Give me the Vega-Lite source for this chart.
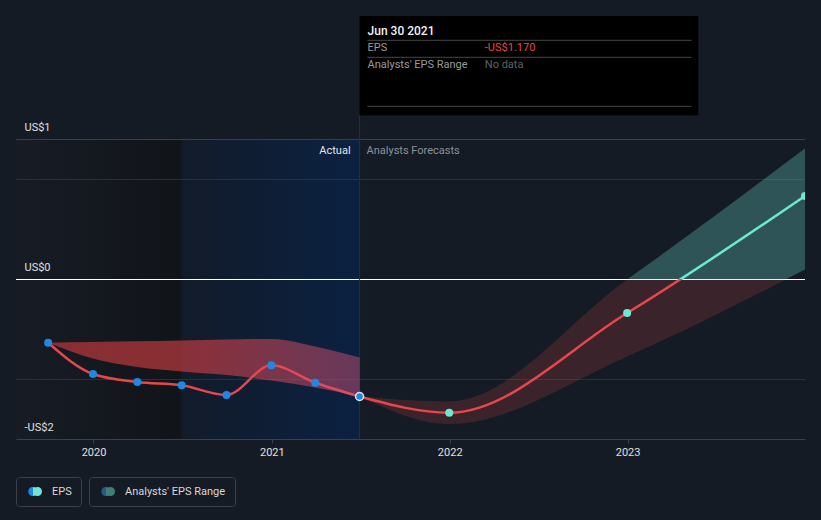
{
  "$schema": "https://vega.github.io/schema/vega-lite/v6.json",
  "width": 789,
  "height": 423,
  "autosize": {"type": "none"},
  "padding": {"left": 16, "top": 16, "right": 16, "bottom": 81},
  "background": "#151b25",
  "config": {
    "font": "Roboto",
    "view": {"stroke": null},
    "legend": {
      "orient": "bottom",
      "direction": "horizontal",
      "strokeColor": "#3b404b",
      "cornerRadius": 3,
      "padding": 9,
      "labelColor": "#d8d8d8",
      "labelFontSize": 11,
      "labelFont": "Roboto",
      "symbolSize": 100,
      "symbolOpacity": 1,
      "symbolStrokeWidth": 0,
      "labelOffset": 16,
      "offset": 20
    }
  },
  "datasets": {
    "actual": [
      {"date": "2019-09-30", "eps": -0.632},
      {"date": "2019-12-31", "eps": -0.945},
      {"date": "2020-03-31", "eps": -1.025},
      {"date": "2020-06-30", "eps": -1.058},
      {"date": "2020-09-30", "eps": -1.155},
      {"date": "2020-12-31", "eps": -0.858},
      {"date": "2021-03-31", "eps": -1.032},
      {"date": "2021-06-30", "eps": -1.17}
    ],
    "forecast": [
      {"date": "2021-06-30", "eps": -1.17, "low": -1.17, "high": -1.17},
      {"date": "2021-12-31", "eps": -1.332, "low": -1.445, "high": -1.22},
      {"date": "2022-12-31", "eps": -0.335, "low": -0.77, "high": 0.0},
      {"date": "2023-12-31", "eps": 0.835, "low": 0.1, "high": 1.31}
    ],
    "pastRange": [
      {"date": "2019-09-30", "low": -0.632, "high": -0.632},
      {"date": "2019-12-31", "low": -0.79, "high": -0.625},
      {"date": "2020-03-31", "low": -0.875, "high": -0.618},
      {"date": "2020-06-30", "low": -0.92, "high": -0.61},
      {"date": "2020-09-30", "low": -0.955, "high": -0.6},
      {"date": "2020-12-31", "low": -1.01, "high": -0.595},
      {"date": "2021-03-31", "low": -1.08, "high": -0.67},
      {"date": "2021-06-30", "low": -1.17, "high": -0.78}
    ],
    "grid": [{"v": 1.4}, {"v": 1}, {"v": 0}, {"v": -1}]
  },
  "layer": [
    {
      "data": {"values": [{}]},
      "mark": {"type": "rect", "fill": {"gradient": "linear", "x1": 0, "y1": 0, "x2": 1, "y2": 0, "stops": [{"offset": 0, "color": "#171c25"}, {"offset": 1, "color": "#111419"}]}},
      "encoding": {
        "x": {
          "datum": {"year": 2019, "month": 7, "date": 26, "utc": true},
          "type": "temporal",
          "scale": {"type": "utc", "domain": [{"year": 2019, "month": 7, "date": 26, "utc": true}, {"year": 2023, "month": 12, "date": 31, "utc": true}]},
          "axis": {"title": null, "format": "%Y", "tickCount": {"interval": "year", "step": 1}, "grid": false, "domainColor": "#3b404b", "tickColor": "#3b404b", "tickSize": 4, "labelColor": "#e0e0e0", "labelFontSize": 11, "labelPadding": 3, "labelFlush": false, "zindex": 1}
        },
        "x2": {"datum": {"year": 2020, "month": 6, "date": 30, "utc": true}},
        "y": {
          "datum": 1.4,
          "type": "quantitative",
          "scale": {"domain": [-1.595, 2.635], "nice": false, "zero": false},
          "axis": {"title": null, "values": [1.4, 0, -1.595], "labelExpr": "datum.value > 1 ? 'US$1' : datum.value == 0 ? 'US$0' : '-US$2'", "grid": false, "domain": false, "ticks": false, "labelAlign": "left", "labelPadding": -8, "labelOffset": -12, "labelBaseline": "middle", "labelColor": "#e0e0e0", "labelFontSize": 11, "labelOverlap": false, "labelBound": false, "labelFlush": false, "zindex": 1}
        },
        "y2": {"datum": -1.595}
      }
    },
    {
      "data": {"values": [{}]},
      "mark": {"type": "rect", "fill": {"gradient": "linear", "x1": 0, "y1": 0, "x2": 1, "y2": 0, "stops": [{"offset": 0, "color": "#121b2a"}, {"offset": 1, "color": "#0b2142"}]}},
      "encoding": {
        "x": {"datum": {"year": 2020, "month": 6, "date": 30, "utc": true}, "type": "temporal"},
        "x2": {"datum": {"year": 2021, "month": 6, "date": 30, "utc": true}},
        "y": {"datum": 1.4, "type": "quantitative"},
        "y2": {"datum": -1.595}
      }
    },
    {
      "data": {"name": "grid"},
      "mark": {"type": "rule", "strokeWidth": 1},
      "encoding": {
        "y": {"field": "v", "type": "quantitative", "title": null},
        "stroke": {"condition": [{"test": "datum.v === 0", "value": "#ffffff"}, {"test": "datum.v > 1.2", "value": "#3a3e48"}], "value": "#2a2f39"}
      }
    },
    {
      "data": {"values": [{}]},
      "mark": {"type": "rule", "stroke": "#14345e", "strokeWidth": 1},
      "encoding": {
        "x": {"datum": {"year": 2021, "month": 6, "date": 30, "utc": true}, "type": "temporal"},
        "y": {"datum": -1.595, "type": "quantitative"},
        "y2": {"datum": 1.642}
      }
    },
    {
      "data": {"name": "actual"},
      "mark": {"type": "line", "interpolate": "monotone", "stroke": "#e8464a", "strokeWidth": 2.5},
      "encoding": {
        "x": {"field": "date", "type": "temporal", "title": null},
        "y": {"field": "eps", "type": "quantitative", "title": null}
      }
    },
    {
      "data": {"name": "pastRange"},
      "mark": {"type": "area", "interpolate": "monotone", "fill": {"gradient": "linear", "x1": 0, "y1": 0, "x2": 1, "y2": 0, "stops": [{"offset": 0, "color": "rgba(214,60,64,0.6)"}, {"offset": 0.5, "color": "rgba(222,66,72,0.58)"}, {"offset": 1, "color": "rgba(215,85,120,0.45)"}]}},
      "encoding": {
        "x": {"field": "date", "type": "temporal", "title": null},
        "y": {"field": "high", "type": "quantitative", "title": null},
        "y2": {"field": "low"}
      }
    },
    {
      "data": {"name": "forecast"},
      "mark": {"type": "area", "interpolate": "monotone", "clip": true, "fill": {"gradient": "linear", "x1": 0, "y1": 0, "x2": 0, "y2": 1, "stops": [{"offset": 0, "color": "rgba(110,231,213,0.28)"}, {"offset": 0.4755, "color": "rgba(110,231,213,0.28)"}, {"offset": 0.4755, "color": "rgba(230,72,72,0.18)"}, {"offset": 1, "color": "rgba(230,72,72,0.18)"}]}},
      "encoding": {
        "x": {"field": "date", "type": "temporal", "title": null},
        "y": {"field": "high", "type": "quantitative", "title": null},
        "y2": {"field": "low"}
      }
    },
    {
      "data": {"name": "forecast"},
      "mark": {"type": "line", "interpolate": "monotone", "clip": true, "strokeWidth": 2.5, "stroke": {"gradient": "linear", "x1": 0, "y1": 0, "x2": 0, "y2": 1, "stops": [{"offset": 0, "color": "#6ee7d3"}, {"offset": 0.3853, "color": "#6ee7d3"}, {"offset": 0.3853, "color": "#e8464a"}, {"offset": 1, "color": "#e8464a"}]}},
      "encoding": {
        "x": {"field": "date", "type": "temporal", "title": null},
        "y": {"field": "eps", "type": "quantitative", "title": null}
      }
    },
    {
      "data": {"name": "actual"},
      "mark": {"type": "point", "shape": "circle", "filled": true, "size": 64, "fill": "#1e88e5", "opacity": 1, "strokeWidth": 1.5},
      "encoding": {
        "x": {"field": "date", "type": "temporal", "title": null},
        "y": {"field": "eps", "type": "quantitative", "title": null},
        "stroke": {"condition": {"test": "time(datum.date) == utc(2021, 5, 30)", "value": "#d6e6fa"}, "value": "transparent"}
      }
    },
    {
      "data": {"name": "forecast"},
      "transform": [{"filter": "time(datum.date) > utc(2021, 6, 1)"}],
      "mark": {"type": "point", "shape": "circle", "filled": true, "size": 64, "fill": "#6ee7d3", "opacity": 1, "clip": true},
      "encoding": {
        "x": {"field": "date", "type": "temporal", "title": null},
        "y": {"field": "eps", "type": "quantitative", "title": null}
      }
    },
    {
      "data": {"name": "actual"},
      "mark": {"type": "point", "filled": true, "size": 100, "opacity": 0, "strokeWidth": 0, "fill": {"gradient": "linear", "x1": 0, "y1": 0, "x2": 1, "y2": 0, "stops": [{"offset": 0, "color": "#1e88e5"}, {"offset": 0.35, "color": "#1e88e5"}, {"offset": 0.35, "color": "#6ee7d3"}, {"offset": 1, "color": "#6ee7d3"}]}},
      "encoding": {
        "x": {"field": "date", "type": "temporal", "title": null},
        "y": {"field": "eps", "type": "quantitative", "title": null},
        "shape": {
          "datum": "EPS",
          "scale": {"range": ["M-0.45,0A0.9,0.9 0 1,0 1.35,0A0.9,0.9 0 1,0 -0.45,0ZM0.5,0A0.9,0.9 0 1,0 2.3,0A0.9,0.9 0 1,0 0.5,0Z"]},
          "legend": {"title": null, "symbolOpacity": 1}
        }
      }
    },
    {
      "data": {"name": "forecast"},
      "mark": {"type": "point", "filled": true, "size": 100, "opacity": 0, "strokeWidth": 0, "fill": {"gradient": "linear", "x1": 0, "y1": 0, "x2": 1, "y2": 0, "stops": [{"offset": 0, "color": "#215b86"}, {"offset": 0.35, "color": "#215b86"}, {"offset": 0.35, "color": "#3f7f79"}, {"offset": 1, "color": "#3f7f79"}]}},
      "encoding": {
        "x": {"field": "date", "type": "temporal", "title": null},
        "y": {"field": "high", "type": "quantitative", "title": null},
        "shape": {
          "datum": "Analysts' EPS Range",
          "scale": {"range": ["M-0.45,0A0.9,0.9 0 1,0 1.35,0A0.9,0.9 0 1,0 -0.45,0ZM0.5,0A0.9,0.9 0 1,0 2.3,0A0.9,0.9 0 1,0 0.5,0Z"]},
          "legend": {"title": null, "symbolOpacity": 1}
        }
      }
    },
    {
      "data": {"values": [{}]},
      "mark": {"type": "text", "text": "Actual", "align": "right", "baseline": "middle", "dx": -9, "fontSize": 11, "fill": "#e6e6e6"},
      "encoding": {
        "x": {"datum": {"year": 2021, "month": 6, "date": 30, "utc": true}, "type": "temporal"},
        "y": {"datum": 1.285, "type": "quantitative"}
      }
    },
    {
      "data": {"values": [{}]},
      "mark": {"type": "text", "text": "Analysts Forecasts", "align": "left", "baseline": "middle", "dx": 7, "fontSize": 11, "fill": "#8c9199"},
      "encoding": {
        "x": {"datum": {"year": 2021, "month": 6, "date": 30, "utc": true}, "type": "temporal"},
        "y": {"datum": 1.285, "type": "quantitative"}
      }
    },
    {
      "data": {"values": [{}]},
      "mark": {"type": "rect", "fill": "#000000"},
      "encoding": {
        "x": {"datum": {"year": 2021, "month": 6, "date": 30, "utc": true}, "type": "temporal"},
        "x2": {"datum": {"year": 2023, "month": 5, "date": 26, "utc": true}},
        "y": {"datum": 2.635, "type": "quantitative"},
        "y2": {"datum": 1.642}
      }
    },
    {
      "data": {"values": [{}]},
      "mark": {"type": "rule", "stroke": "#474747", "strokeWidth": 1},
      "encoding": {
        "x": {"datum": {"year": 2021, "month": 7, "date": 16, "utc": true}, "type": "temporal"},
        "x2": {"datum": {"year": 2023, "month": 5, "date": 12, "utc": true}},
        "y": {"datum": 2.392, "type": "quantitative"}
      }
    },
    {
      "data": {"values": [{}]},
      "mark": {"type": "rule", "stroke": "#474747", "strokeWidth": 1},
      "encoding": {
        "x": {"datum": {"year": 2021, "month": 7, "date": 16, "utc": true}, "type": "temporal"},
        "x2": {"datum": {"year": 2023, "month": 5, "date": 12, "utc": true}},
        "y": {"datum": 2.222, "type": "quantitative"}
      }
    },
    {
      "data": {"values": [{}]},
      "mark": {"type": "rule", "stroke": "#474747", "strokeWidth": 1},
      "encoding": {
        "x": {"datum": {"year": 2021, "month": 7, "date": 16, "utc": true}, "type": "temporal"},
        "x2": {"datum": {"year": 2023, "month": 5, "date": 12, "utc": true}},
        "y": {"datum": 1.732, "type": "quantitative"}
      }
    },
    {
      "data": {"values": [{}]},
      "mark": {"type": "text", "text": "Jun 30 2021", "align": "left", "baseline": "middle", "dx": 8, "fontSize": 12, "fontWeight": 500, "fill": "#f2f2f2"},
      "encoding": {
        "x": {"datum": {"year": 2021, "month": 6, "date": 30, "utc": true}, "type": "temporal"},
        "y": {"datum": 2.485, "type": "quantitative"}
      }
    },
    {
      "data": {"values": [{}]},
      "mark": {"type": "text", "text": "EPS", "align": "left", "baseline": "middle", "dx": 8, "fontSize": 11, "fill": "#9a9a9a"},
      "encoding": {
        "x": {"datum": {"year": 2021, "month": 6, "date": 30, "utc": true}, "type": "temporal"},
        "y": {"datum": 2.312, "type": "quantitative"}
      }
    },
    {
      "data": {"values": [{}]},
      "mark": {"type": "text", "text": "Analysts' EPS Range", "align": "left", "baseline": "middle", "dx": 8, "fontSize": 11, "fill": "#9a9a9a"},
      "encoding": {
        "x": {"datum": {"year": 2021, "month": 6, "date": 30, "utc": true}, "type": "temporal"},
        "y": {"datum": 2.145, "type": "quantitative"}
      }
    },
    {
      "data": {"values": [{}]},
      "mark": {"type": "text", "text": "-US$1.170", "align": "left", "baseline": "middle", "fontSize": 11, "fill": "#e8464a"},
      "encoding": {
        "x": {"datum": {"year": 2022, "month": 3, "date": 14, "utc": true}, "type": "temporal"},
        "y": {"datum": 2.312, "type": "quantitative"}
      }
    },
    {
      "data": {"values": [{}]},
      "mark": {"type": "text", "text": "No data", "align": "left", "baseline": "middle", "fontSize": 11, "fill": "#5f6368"},
      "encoding": {
        "x": {"datum": {"year": 2022, "month": 3, "date": 14, "utc": true}, "type": "temporal"},
        "y": {"datum": 2.145, "type": "quantitative"}
      }
    }
  ],
  "resolve": {"scale": {"shape": "independent"}}
}
